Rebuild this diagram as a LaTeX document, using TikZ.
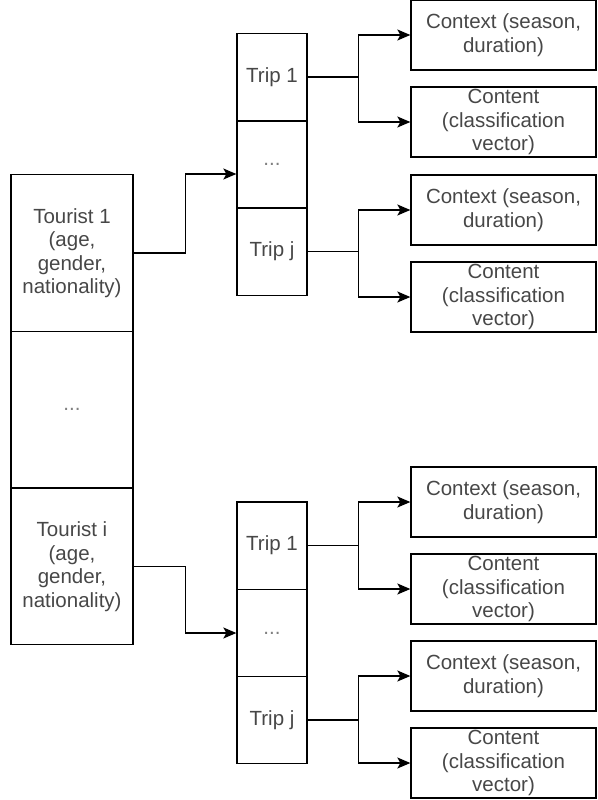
\documentclass[tikz,border=0pt]{standalone}
\usepackage{fontspec}
\setmainfont{Liberation Sans}
\usetikzlibrary{arrows.meta}
\begin{document}
\begin{tikzpicture}[x=1pt,y=-1pt,
  cell/.style={draw=black,line width=1.3pt,rectangle,inner sep=0pt,align=center,
    text=black!72,font=\fontsize{20.5}{23.5}\selectfont},
  tourist/.style={cell,minimum width=122pt,minimum height=156.5pt},
  trip/.style={cell,minimum width=70pt,minimum height=87.3pt},
  info/.style={cell,minimum width=185pt,minimum height=70pt},
  gap/.style={text=black!50},
  link/.style={line width=1.3pt,draw=black},
  arr/.style={link,-{Stealth[length=13pt,width=11pt,inset=3pt]}}]
\useasboundingbox (0,0) rectangle (597,800);

% tourists
\node[tourist] (T1) at (72,253) {Tourist 1\\(age,\\gender,\\nationality)};
\node[tourist,gap] (TD) at (72,409.5) {...};
\node[tourist] (TI) at (72,566.5) {Tourist i\\(age,\\gender,\\nationality)};

% trips of the first tourist
\node[trip] (A1) at (272,77) {Trip 1};
\node[trip,gap] (AD) at (272,164.5) {...};
\node[trip] (AJ) at (272,251.5) {Trip j};

% trips of the last tourist
\node[trip] (B1) at (272,545.5) {Trip 1};
\node[trip,gap] (BD) at (272,633) {...};
\node[trip] (BJ) at (272,720) {Trip j};

% context and content of each trip
\node[info] (CA1) at (503.5,35) {Context (season,\\duration)};
\node[info] (NA1) at (503.5,122) {Content\\(classification\\vector)};
\node[info] (CAJ) at (503.5,210) {Context (season,\\duration)};
\node[info] (NAJ) at (503.5,297) {Content\\(classification\\vector)};
\node[info] (CB1) at (503.5,502) {Context (season,\\duration)};
\node[info] (NB1) at (503.5,589) {Content\\(classification\\vector)};
\node[info] (CBJ) at (503.5,676) {Context (season,\\duration)};
\node[info] (NBJ) at (503.5,763) {Content\\(classification\\vector)};

% tourist -> trip list
\coordinate (inA) at ([yshift=-9.5pt]AD.west);
\draw[arr] (T1.east) -- ++(52,0) |- (inA);
\draw[arr] (TI.east) -- ++(52,0) |- (BD.west);

% trip -> context / content
\foreach \t/\c/\n in {A1/CA1/NA1, AJ/CAJ/NAJ, B1/CB1/NB1, BJ/CBJ/NBJ}{
  \draw[link] (\t.east) -- ++(51,0) coordinate (br);
  \draw[arr] (br) |- (\c.west);
  \draw[arr] (br) |- (\n.west);
}
\end{tikzpicture}
\end{document}
